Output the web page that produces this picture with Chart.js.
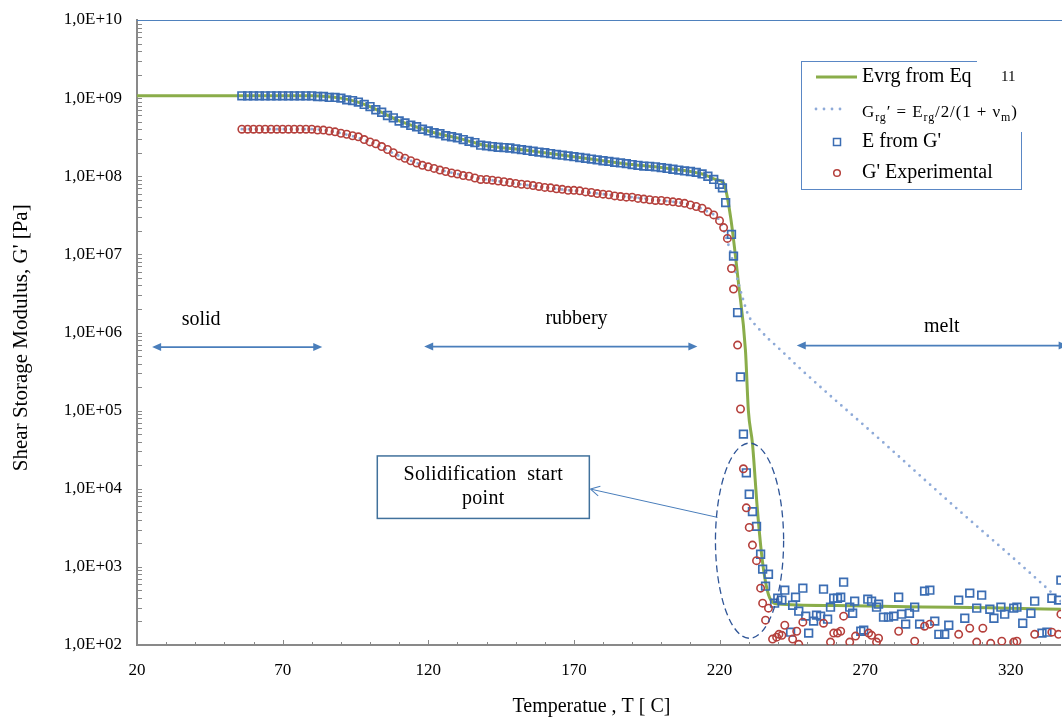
<!DOCTYPE html>
<html lang="en">
<head>
<meta charset="UTF-8">
<title>Shear Storage Modulus vs Temperature</title>
<script src="https://cdn.jsdelivr.net/npm/chart.js"></script>
<style>
  html, body { margin: 0; padding: 0; background: #fff; overflow: hidden; }
  #wrap { width: 1062px; height: 719px; overflow: hidden; }
</style>
</head>
<body>
<div id="wrap"><canvas id="modChart" width="1068" height="719"></canvas></div>
<script>
// ---- values ----
const xTickValues = [20, 70, 120, 170, 220, 270, 320];
const yTickValues = [1e2, 1e3, 1e4, 1e5, 1e6, 1e7, 1e8, 1e9, 1e10];

// dense measured region (blue squares / red circles)
const denseTemp = [
  56, 58, 60, 62, 64, 66, 68, 70, 72, 74,
  76, 78, 80, 82, 84, 86, 88, 90, 92, 94,
  96, 98, 100, 102, 104, 106, 108, 110, 112, 114,
  116, 118, 120, 122, 124, 126, 128, 130, 132, 134,
  136, 138, 140, 142, 144, 146, 148, 150, 152, 154,
  156, 158, 160, 162, 164, 166, 168, 170, 172, 174,
  176, 178, 180, 182, 184, 186, 188, 190, 192, 194,
  196, 198, 200, 202, 204, 206, 208, 210, 212, 214,
  216, 218, 220
];
const eFromGDense = [
  1.07e9, 1.07e9, 1.07e9, 1.07e9, 1.07e9, 1.07e9, 1.07e9, 1.07e9, 1.07e9, 1.07e9,
  1.07e9, 1.07e9, 1.07e9, 1.05e9, 1.05e9, 1.02e9, 1.02e9, 1.0e9, 9.5e8, 9.3e8,
  8.9e8, 8.3e8, 7.8e8, 7.1e8, 6.6e8, 6.0e8, 5.6e8, 5.1e8, 4.8e8, 4.5e8,
  4.3e8, 4.0e8, 3.8e8, 3.6e8, 3.5e8, 3.3e8, 3.2e8, 3.1e8, 2.95e8, 2.8e8,
  2.7e8, 2.5e8, 2.45e8, 2.4e8, 2.35e8, 2.33e8, 2.3e8, 2.24e8, 2.19e8, 2.14e8,
  2.09e8, 2.04e8, 2.0e8, 1.95e8, 1.9e8, 1.86e8, 1.82e8, 1.78e8, 1.74e8, 1.7e8,
  1.66e8, 1.62e8, 1.58e8, 1.55e8, 1.51e8, 1.48e8, 1.45e8, 1.41e8, 1.38e8, 1.35e8,
  1.34e8, 1.32e8, 1.29e8, 1.26e8, 1.23e8, 1.2e8, 1.17e8, 1.15e8, 1.12e8, 1.07e8,
  1.0e8, 9.1e7, 7.9e7
];
const gExpDense = [
  4.0e8, 4.0e8, 4.0e8, 4.0e8, 4.0e8, 4.0e8, 4.0e8, 4.0e8, 4.0e8, 4.0e8,
  4.0e8, 4.0e8, 4.0e8, 3.9e8, 3.9e8, 3.8e8, 3.7e8, 3.55e8, 3.45e8, 3.3e8,
  3.2e8, 2.95e8, 2.75e8, 2.6e8, 2.4e8, 2.2e8, 2.0e8, 1.82e8, 1.7e8, 1.58e8,
  1.48e8, 1.38e8, 1.32e8, 1.26e8, 1.2e8, 1.15e8, 1.1e8, 1.07e8, 1.02e8, 1.0e8,
  9.5e7, 9.1e7, 9.1e7, 8.9e7, 8.7e7, 8.5e7, 8.3e7, 8.1e7, 7.9e7, 7.8e7,
  7.6e7, 7.4e7, 7.2e7, 7.1e7, 6.9e7, 6.8e7, 6.6e7, 6.6e7, 6.5e7, 6.3e7,
  6.2e7, 6.0e7, 5.9e7, 5.8e7, 5.6e7, 5.5e7, 5.4e7, 5.4e7, 5.2e7, 5.1e7,
  5.0e7, 4.9e7, 4.9e7, 4.8e7, 4.7e7, 4.6e7, 4.5e7, 4.3e7, 4.1e7, 3.9e7,
  3.5e7, 3.2e7, 2.7e7
];

// drop and melt region
const eFromGTailTemp = [
  221.0, 222.1, 224.1, 224.8, 226.2, 227.2, 228.2, 229.2, 230.2, 231.3,
  232.7, 234.1, 234.8, 235.8, 236.8, 238.9, 240.0, 241.4, 242.4, 244.4,
  245.1, 246.1, 247.2, 248.6, 249.6, 250.6, 252.3, 253.3, 254.7, 255.7,
  257.1, 258.1, 259.2, 260.5, 261.6, 262.6, 264.7, 265.7, 266.4, 268.5,
  269.5, 270.9, 272.2, 273.9, 274.6, 276.3, 278.0, 279.8, 281.5, 282.5,
  283.9, 285.2, 287.0, 288.7, 290.4, 292.2, 293.9, 295.3, 297.3, 298.7,
  302.1, 304.2, 305.9, 308.3, 310.0, 312.8, 314.2, 316.6, 317.9, 321.0,
  322.1, 324.1, 326.9, 328.2, 330.7, 332.4, 334.1, 336.4, 337.2
];
const eFromGTail = [
  7.1e7, 4.6e7, 1.8e7, 9.5e6, 1.8e6, 2.7e5, 5.0e4, 1.6e4, 8.5e3, 5.1e3,
  3.3e3, 1.45e3, 935, 566, 805, 343, 397, 375, 503, 146,
  323, 409, 271, 534, 234, 142, 202, 241, 234, 518,
  214, 305, 397, 397, 409, 637, 305, 255, 364, 150,
  155, 386, 364, 305, 333, 227, 227, 234, 409, 248,
  185, 255, 305, 185, 489, 503, 202, 137, 137, 179,
  375, 220, 461, 296, 434, 287, 220, 305, 248, 296,
  305, 190, 255, 364, 142, 146, 397, 375, 676
];
const gExpTailTemp = [
  221.4, 222.7, 224.1, 224.8, 226.2, 227.2, 228.2, 229.2, 230.2, 231.3,
  232.7, 234.1, 234.8, 235.8, 236.8, 238.2, 239.6, 240.4, 241.4, 242.4,
  245.1, 246.5, 247.2, 248.6, 255.7, 258.1, 259.2, 260.5, 261.6, 262.6,
  264.7, 266.7, 271.2, 272.2, 273.9, 274.6, 281.5, 287.0, 290.4, 292.2,
  302.1, 305.9, 308.3, 310.4, 313.1, 316.9, 321.0, 322.1, 328.2, 334.1,
  336.4, 337.2
];
const gExpTail = [
  2.2e7, 1.6e7, 6.6e6, 3.6e6, 6.9e5, 1.05e5, 1.8e4, 5.7e3, 3.2e3, 1.9e3,
  1.2e3, 534, 343, 208, 296, 119, 126, 137, 133, 179,
  119, 150, 102, 196, 190, 109, 142, 142, 150, 234,
  109, 130, 142, 133, 109, 122, 150, 112, 174, 185,
  137, 164, 109, 164, 105, 112, 109, 112, 137, 146,
  137, 248
];

// Evrg from Eq 11 (green line)
const evrgTemp = [
  20, 80, 85, 90, 95, 100, 105, 110, 115, 120,
  125, 130, 135, 140, 150, 160, 170, 180, 190, 200,
  210, 215, 219, 221.4, 223.8, 226.5, 228.9, 229.9, 231.3, 233.0,
  234.7, 236.4, 238.1, 240, 260, 280, 300, 320, 337.2
];
const evrgMod = [
  1.07e9, 1.07e9, 1.05e9, 1.0e9, 9.1e8, 7.8e8, 6.3e8, 5.1e8, 4.4e8, 3.8e8,
  3.4e8, 3.1e8, 2.75e8, 2.45e8, 2.24e8, 2.0e8, 1.78e8, 1.58e8, 1.41e8, 1.29e8,
  1.15e8, 1.04e8, 9.0e7, 8.2e7, 3.0e7, 4.3e6, 5.9e5, 1.0e5, 3.8e4, 5.4e3,
  1.2e3, 500, 355, 335, 320, 310, 305, 295, 287
];

// G_rg' = E_rg/2/(1+nu_m) (dotted line)
const grgTemp = [
  56, 80, 90, 100, 110, 120, 130, 140, 160, 180,
  200, 210, 216, 220, 223.4, 225.5, 227.9, 229.9, 233.0, 236.5,
  239.9, 243.4, 246.8, 275.3, 298.3, 334.8, 337.2
];
const grgMod = [
  4.0e8, 4.0e8, 3.55e8, 2.75e8, 1.82e8, 1.32e8, 1.07e8, 9.1e7, 7.2e7, 5.9e7,
  4.9e7, 4.3e7, 3.5e7, 2.7e7, 1.2e7, 5.9e6, 2.8e6, 1.66e6, 1.17e6, 8.5e5,
  6.5e5, 4.9e5, 3.7e5, 4.2e4, 7.1e3, 440, 360
];

// ---- styling ----
const SERIF = "'Liberation Serif', 'Times New Roman', serif";
const green = '#8aad4a';
const dotBlue = '#8eaad8';
const sqBlue = '#3b6db3';
const circRed = '#b5403c';
const arrowBlue = '#4a7ebb';
const axisGrey = '#898989';

function pairs(xs, ys) {
  return xs.map((x, i) => ({ x: x, y: ys[i] }));
}

function expLabel(v) {
  const e = Math.round(Math.log10(v));
  return '1,0E+' + String(e).padStart(2, '0');
}

// inside tick marks (Excel style) and the blue top border
const axisDecor = {
  id: 'axisDecor',
  beforeDatasetsDraw(chart) {
    const { ctx, chartArea: a, scales } = chart;
    const xs = scales.x, ys = scales.y;
    ctx.save();
    ctx.strokeStyle = axisGrey;
    ctx.lineWidth = 1;
    ctx.beginPath();
    for (let e = 2; e < 10; e++) {
      for (let m = 1; m <= 9; m++) {
        const py = Math.round(ys.getPixelForValue(m * Math.pow(10, e))) + 0.5;
        ctx.moveTo(a.left, py);
        ctx.lineTo(a.left + 5, py);
      }
    }
    for (let t = 20; t <= 330; t += 10) {
      const px = Math.round(xs.getPixelForValue(t)) + 0.5;
      const len = (t - 20) % 50 === 0 ? 5 : 3;
      ctx.moveTo(px, a.bottom);
      ctx.lineTo(px, a.bottom - len);
    }
    ctx.stroke();
    ctx.strokeStyle = '#4f81bd';
    ctx.beginPath();
    ctx.moveTo(a.left, a.top + 0.5);
    ctx.lineTo(a.right + 10, a.top + 0.5);
    ctx.stroke();
    ctx.restore();
  }
};

function head(ctx, x, y, ang, len, half, filled) {
  ctx.save();
  ctx.translate(x, y);
  ctx.rotate(ang);
  ctx.beginPath();
  ctx.moveTo(0, 0);
  ctx.lineTo(-len, -half);
  if (filled) {
    ctx.lineTo(-len, half);
    ctx.closePath();
    ctx.fill();
  } else {
    ctx.moveTo(0, 0);
    ctx.lineTo(-len, half);
    ctx.stroke();
  }
  ctx.restore();
}

// phase arrows, labels, the call-out box and the dashed ellipse
const notes = {
  id: 'notes',
  afterDatasetsDraw(chart) {
    const { ctx, scales } = chart;
    const X = v => scales.x.getPixelForValue(v);
    const Y = v => scales.y.getPixelForValue(v);
    ctx.save();

    const phases = [
      { text: 'solid', tx: 42, ty: 1.45e6, from: 25.2, to: 83.6, at: 6.5e5 },
      { text: 'rubbery', tx: 170.9, ty: 1.5e6, from: 118.6, to: 212.4, at: 6.6e5 },
      { text: 'melt', tx: 296.3, ty: 1.17e6, from: 246.5, to: 339.5, at: 6.8e5 }
    ];
    ctx.font = '20px ' + SERIF;
    ctx.textAlign = 'center';
    ctx.textBaseline = 'middle';
    phases.forEach(p => {
      ctx.fillStyle = '#000';
      ctx.fillText(p.text, X(p.tx), Y(p.ty));
      const x1 = X(p.from), x2 = X(p.to), y = Y(p.at);
      ctx.strokeStyle = arrowBlue;
      ctx.fillStyle = arrowBlue;
      ctx.lineWidth = 1.6;
      ctx.beginPath();
      ctx.moveTo(x1 + 6, y);
      ctx.lineTo(x2 - 6, y);
      ctx.stroke();
      head(ctx, x1, y, Math.PI, 9, 4, true);
      head(ctx, x2, y, 0, 9, 4, true);
    });

    // call-out box
    const bx1 = X(102.5), bx2 = X(175.3), by1 = Y(2.63e4), by2 = Y(4.17e3);
    ctx.strokeStyle = '#41719c';
    ctx.lineWidth = 1.5;
    ctx.strokeRect(bx1, by1, bx2 - bx1, by2 - by1);
    ctx.fillStyle = '#000';
    ctx.font = '20px ' + SERIF;
    const cx = (bx1 + bx2) / 2, cy = (by1 + by2) / 2;
    ctx.letterSpacing = '0.3px';
    ctx.fillText('Solidification  start', cx, cy - 12);
    ctx.fillText('point', cx, cy + 12);
    ctx.letterSpacing = '0px';

    // pointer to the box
    const px1 = X(219.3), py1 = Y(4.3e3), px2 = X(175.7), py2 = Y(9.9e3);
    ctx.strokeStyle = arrowBlue;
    ctx.lineWidth = 1;
    ctx.beginPath();
    ctx.moveTo(px1, py1);
    ctx.lineTo(px2, py2);
    ctx.stroke();
    head(ctx, px2, py2, Math.atan2(py2 - py1, px2 - px1), 9, 5, false);

    // dashed ellipse round the solidification start
    const ex1 = X(218.6), ex2 = X(242.0), ey1 = Y(3.84e4), ey2 = Y(122);
    ctx.strokeStyle = '#2f5597';
    ctx.lineWidth = 1.3;
    ctx.setLineDash([7, 4]);
    ctx.beginPath();
    ctx.ellipse((ex1 + ex2) / 2, (ey1 + ey2) / 2, (ex2 - ex1) / 2, (ey2 - ey1) / 2, 0, 0, Math.PI * 2);
    ctx.stroke();
    ctx.setLineDash([]);
    ctx.restore();
  }
};

// Excel-like legend box, drawn by hand because of the formula entry
const legendBox = {
  id: 'legendBox',
  afterDraw(chart) {
    const ctx = chart.ctx;
    ctx.save();
    ctx.strokeStyle = '#5a87c5';
    ctx.lineWidth = 1;
    ctx.strokeRect(801.5, 61.5, 220, 128);
    ctx.fillStyle = '#fff';
    ctx.fillRect(977, 55, 55, 77);

    ctx.textBaseline = 'middle';
    ctx.textAlign = 'left';
    ctx.fillStyle = '#000';

    // Evrg line
    ctx.strokeStyle = green;
    ctx.lineWidth = 3;
    ctx.beginPath();
    ctx.moveTo(816, 77);
    ctx.lineTo(857, 77);
    ctx.stroke();
    ctx.font = '20px ' + SERIF;
    ctx.fillText('Evrg from Eq', 862, 77);
    ctx.font = '15px ' + SERIF;
    ctx.fillText('11', 1001, 77);

    // dotted entry
    ctx.fillStyle = dotBlue;
    [816, 824, 832, 840].forEach(x => {
      ctx.beginPath();
      ctx.arc(x, 109, 1.4, 0, Math.PI * 2);
      ctx.fill();
    });
    ctx.fillStyle = '#000';
    ctx.letterSpacing = '0.9px';
    let x = 862;
    const base = 117;
    const parts = [
      ['G', 17, 0], ['rg', 12, 4], ['\u2032', 17, 0], [' = ', 17, 0], ['E', 17, 0],
      ['rg', 12, 4], ['/2/(1 + \u03bd', 17, 0], ['m', 12, 4], [')', 17, 0]
    ];
    ctx.textBaseline = 'alphabetic';
    parts.forEach(([s, size, dy]) => {
      ctx.font = size + 'px ' + SERIF;
      ctx.fillText(s, x, base + dy);
      x += ctx.measureText(s).width;
    });
    ctx.letterSpacing = '0px';
    ctx.textBaseline = 'middle';

    // E from G'
    ctx.strokeStyle = sqBlue;
    ctx.lineWidth = 1.5;
    ctx.strokeRect(833.5, 138.5, 7, 7);
    ctx.font = '20px ' + SERIF;
    ctx.fillText("E from G'", 862, 142);

    // G' Experimental
    ctx.strokeStyle = circRed;
    ctx.beginPath();
    ctx.arc(837, 173, 3.3, 0, Math.PI * 2);
    ctx.stroke();
    ctx.fillText("G' Experimental", 862, 173);
    ctx.restore();
  }
};

const ctx = document.getElementById('modChart').getContext('2d');
const modChart = new Chart(ctx, {
  type: 'scatter',
  data: {
    datasets: [
      {
        label: 'G\' Experimental',
        data: pairs(denseTemp, gExpDense).concat(pairs(gExpTailTemp, gExpTail)),
        pointStyle: 'circle',
        pointRadius: 3.7,
        borderColor: circRed,
        backgroundColor: 'rgba(0,0,0,0)',
        pointBorderWidth: 1.6,
        showLine: false,
        order: 1
      },
      {
        label: 'E from G\'',
        data: pairs(denseTemp, eFromGDense).concat(pairs(eFromGTailTemp, eFromGTail)),
        pointStyle: 'rect',
        pointRadius: 5.4,
        borderColor: sqBlue,
        backgroundColor: 'rgba(0,0,0,0)',
        pointBorderWidth: 1.7,
        showLine: false,
        order: 2
      },
      {
        label: 'Grg\' = Erg/2/(1 + vm)',
        data: pairs(grgTemp, grgMod),
        showLine: true,
        borderColor: dotBlue,
        borderWidth: 2.8,
        borderDash: [0, 7],
        borderCapStyle: 'round',
        cubicInterpolationMode: 'monotone',
        pointRadius: 0,
        order: 3
      },
      {
        label: 'Evrg from Eq 11',
        data: pairs(evrgTemp, evrgMod),
        showLine: true,
        borderColor: green,
        borderWidth: 3,
        cubicInterpolationMode: 'monotone',
        pointRadius: 0,
        order: 4
      }
    ]
  },
  options: {
    responsive: false,
    animation: false,
    devicePixelRatio: 1,
    layout: { padding: { top: 20, right: 0, bottom: 0, left: 0 } },
    plugins: {
      legend: { display: false },
      tooltip: { enabled: false }
    },
    scales: {
      x: {
        type: 'linear',
        min: 20,
        max: 337.2,
        afterBuildTicks: s => { s.ticks = xTickValues.map(v => ({ value: v })); },
        afterFit: s => { s.height = 74; s.paddingLeft = 0; s.paddingRight = 0; },
        grid: { display: false, drawTicks: false },
        border: { color: axisGrey, width: 2 },
        ticks: {
          padding: 15,
          color: '#000',
          font: { family: SERIF, size: 17 },
          maxRotation: 0
        },
        title: {
          display: true,
          text: 'Temperatue , T [ C]   ',
          color: '#000',
          font: { family: SERIF, size: 20 },
          padding: { top: 0, bottom: 0 }
        }
      },
      y: {
        type: 'logarithmic',
        min: 1e2,
        max: 1e10,
        afterBuildTicks: s => { s.ticks = yTickValues.map(v => ({ value: v })); },
        afterFit: s => { s.width = 137; s.paddingTop = 0; s.paddingBottom = 0; },
        grid: { display: false, drawTicks: false },
        border: { color: axisGrey, width: 2 },
        ticks: {
          padding: 15,
          color: '#000',
          font: { family: SERIF, size: 17 },
          callback: v => expLabel(v)
        },
        title: {
          display: true,
          text: "Shear Storage Modulus, G' [Pa]  ",
          color: '#000',
          font: { family: SERIF, size: 21 },
          padding: { top: 9, bottom: 0 }
        }
      }
    }
  },
  plugins: [axisDecor, notes, legendBox]
});
</script>
</body>
</html>
